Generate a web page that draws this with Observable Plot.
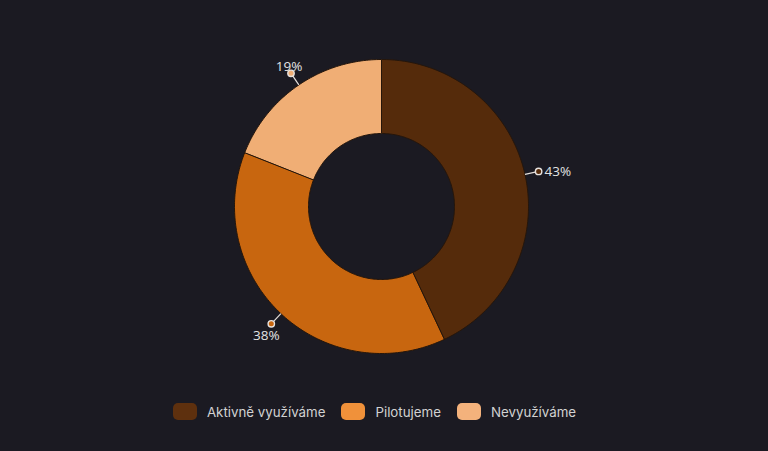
<!DOCTYPE html>
<html><head><meta charset="utf-8">
<script src="https://cdn.jsdelivr.net/npm/d3@7"></script>
<script src="https://cdn.jsdelivr.net/npm/@observablehq/plot@0.6"></script>
<style>
html,body{margin:0;padding:0;background:#1b1a22;}
body{width:768px;height:451px;overflow:hidden;font-family:"Open Sans",sans-serif;}
#legend{display:flex;justify-content:center;align-items:center;margin-top:18px;margin-left:-19px;color:#d2d2d2;font-size:13.3px;font-family:"Inter","Open Sans",sans-serif;}
.item{display:flex;align-items:center;margin:0 8px;}
.sw{width:24px;height:17px;border-radius:5px;margin-right:10px;}
</style></head>
<body>
<div id="chart"></div>
<div id="legend"></div>
<script>
const categories = ["Aktivně využíváme", "Pilotujeme", "Nevyužíváme"];
const values = [43, 38, 19];
const sliceColors = ["#552b0b", "#c8660f", "#f0ae75"];
const legendColors = ["#5e300e", "#f0913a", "#f4b27c"];

const W = 768, H = 385, cx = 381, cy = 206, R = 147, r0 = 73, rDot = 161;
const total = d3.sum(values);
const pie = d3.pie().sort(null).value(d => d.value)(categories.map((c, i) => ({cat: c, value: values[i]})));

const poly = [];
for (const p of pie) {
  const a0 = p.startAngle, a1 = p.endAngle;
  const n = Math.max(2, Math.ceil((a1 - a0) / (Math.PI / 180)));
  for (let k = 0; k <= n; k++) { const a = a0 + (a1 - a0) * k / n; poly.push({cat: p.data.cat, x: Math.sin(a) * R, y: -Math.cos(a) * R}); }
  for (let k = n; k >= 0; k--) { const a = a0 + (a1 - a0) * k / n; poly.push({cat: p.data.cat, x: Math.sin(a) * r0, y: -Math.cos(a) * r0}); }
}
const labels = pie.map(p => {
  const m = (p.startAngle + p.endAngle) / 2, s = Math.sin(m), c = Math.cos(m);
  return {cat: p.data.cat, text: Math.round(p.data.value / total * 100) + "%",
    x1: s * R, y1: -c * R, x2: s * rDot, y2: -c * rDot, side: Math.abs(s) > 0.9 ? "h" : (c < 0 ? "below" : "above"), s};
});
const color = {domain: categories, range: sliceColors};

const chart = Plot.plot({
  width: W, height: H, margin: 0,
  style: {background: "transparent", color: "#e6e6e6", fontFamily: "Open Sans, sans-serif"},
  x: {domain: [-cx, W - cx], range: [0, W], axis: null},
  y: {domain: [-cy, H - cy], range: [0, H], axis: null},
  color,
  marks: [
    Plot.line(poly, {x: "x", y: "y", z: "cat", fill: "cat", stroke: "#25160b", strokeWidth: 1, curve: "linear-closed"}),
    Plot.link(labels, {x1: "x1", y1: "y1", x2: "x2", y2: "y2", stroke: "#e6e0dc", strokeWidth: 1.2}),
    Plot.dot(labels, {x: "x2", y: "y2", r: 3.2, fill: "cat", stroke: "#e8e2de", strokeWidth: 1.4}),
    Plot.text(labels.filter(d => d.side === "h"), {x: "x2", y: "y2", text: "text", dx: 6, textAnchor: "start", fontSize: 13.5, fill: "#e2e2e2"}),
    Plot.text(labels.filter(d => d.side === "below"), {x: "x2", y: "y2", text: "text", dx: -5, dy: 7, lineAnchor: "top", fontSize: 13.5, fill: "#e2e2e2"}),
    Plot.text(labels.filter(d => d.side === "above"), {x: "x2", y: "y2", text: "text", dx: -2, dy: -2, lineAnchor: "bottom", fontSize: 13.5, fill: "#e2e2e2"})
  ]
});
document.getElementById("chart").append(chart);

const lg = document.getElementById("legend");
categories.forEach((c, i) => {
  const it = document.createElement("div"); it.className = "item";
  const sw = document.createElement("div"); sw.className = "sw"; sw.style.background = legendColors[i];
  const t = document.createElement("span"); t.textContent = c;
  it.append(sw, t); lg.append(it);
});
</script>
</body></html>
